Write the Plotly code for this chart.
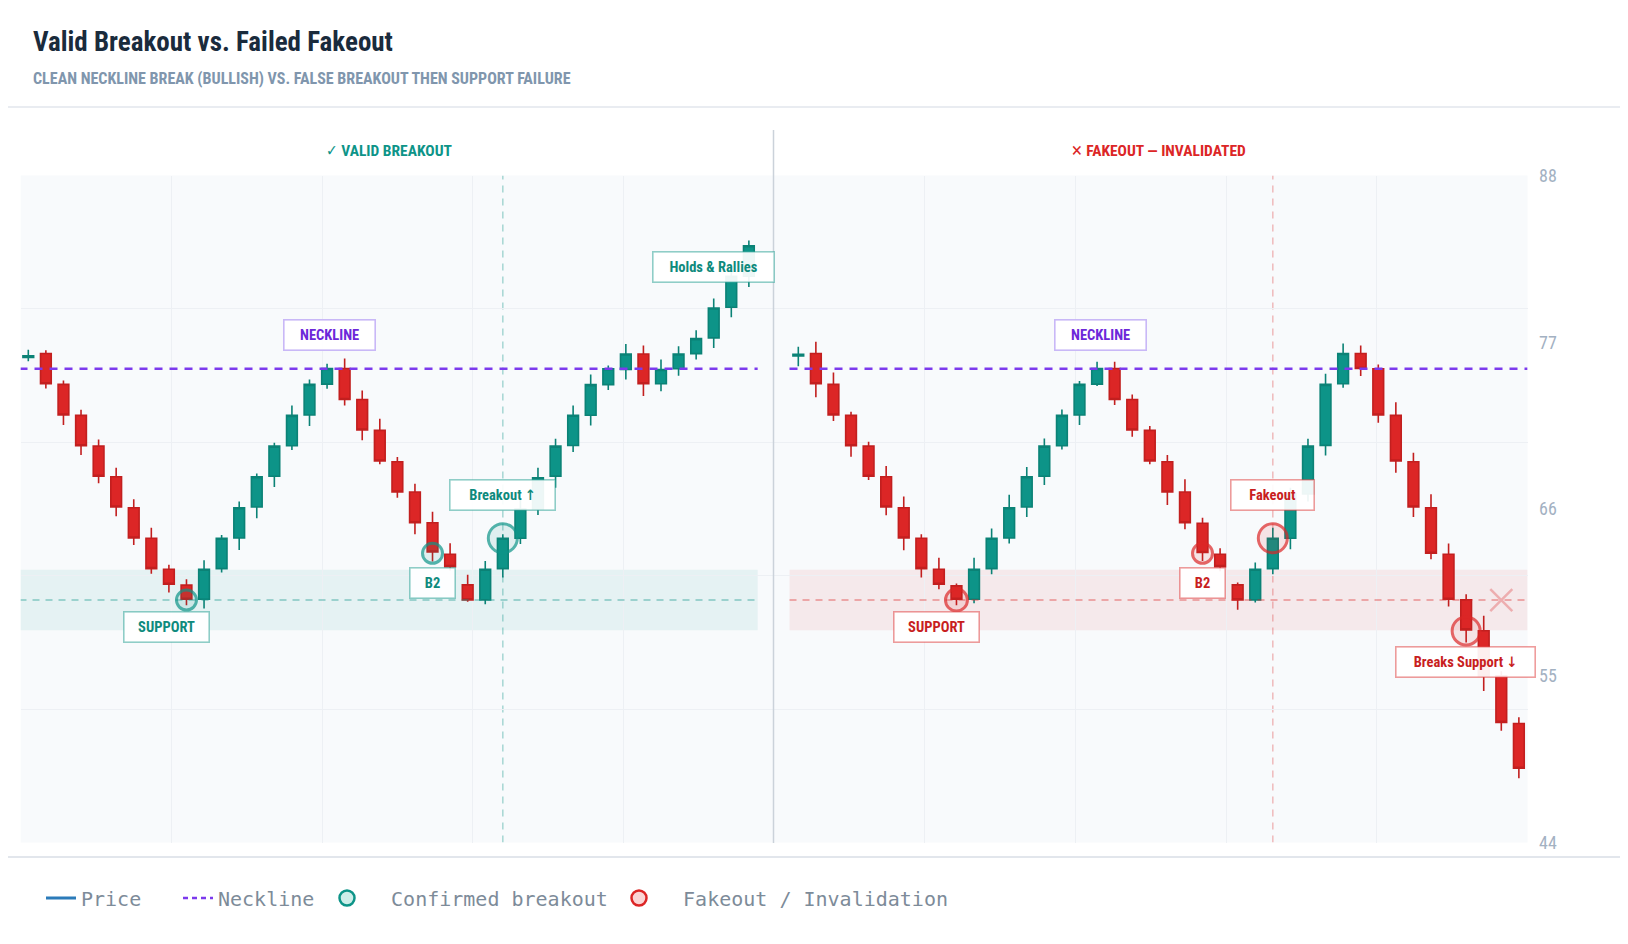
import plotly.graph_objects as go

# ---------------- data ----------------
candle_idx = list(range(42))

valid_open = [76.00, 76.26, 74.22, 72.18, 70.15, 68.13, 66.09, 64.07, 62.03, 60.98,
              60.05, 62.07, 64.09, 66.14, 68.16, 70.18, 72.20, 74.24, 75.27, 73.23,
              71.19, 69.12, 67.12, 65.10, 63.02, 61.00, 60.01, 62.07, 64.07, 66.00,
              68.17, 70.19, 72.19, 74.21, 75.20, 76.23, 74.26, 75.25, 76.25, 77.29,
              79.31, 81.35]
valid_high = [76.50, 76.48, 74.48, 72.55, 70.59, 68.73, 66.64, 64.77, 62.32, 61.37,
              62.62, 64.29, 66.49, 68.35, 70.37, 72.83, 74.55, 75.58, 75.93, 73.82,
              71.96, 69.43, 67.67, 65.83, 63.74, 61.66, 62.58, 64.34, 66.60, 68.72,
              70.63, 72.83, 74.87, 75.47, 76.89, 76.78, 75.86, 76.74, 77.79, 79.88,
              81.79, 83.72]
valid_low = [75.75, 73.95, 71.54, 69.56, 67.70, 65.52, 63.63, 61.74, 60.49, 59.66,
             59.44, 61.81, 63.30, 65.39, 67.45, 69.89, 71.47, 73.93, 72.83, 70.53,
             68.95, 66.75, 64.34, 62.54, 61.95, 59.88, 59.72, 61.48, 63.70, 65.60,
             67.40, 69.77, 71.51, 73.86, 74.54, 73.45, 73.77, 74.80, 75.86, 76.63,
             78.65, 80.65]
valid_close = [76.10, 74.26, 72.20, 70.18, 68.16, 66.14, 64.09, 62.07, 61.04, 60.05,
               62.03, 64.07, 66.09, 68.13, 70.15, 72.18, 74.22, 75.27, 73.23, 71.21,
               69.17, 67.12, 65.10, 63.17, 62.20, 60.01, 62.03, 64.07, 66.00, 68.06,
               70.15, 72.19, 74.21, 75.25, 76.23, 74.26, 75.20, 76.23, 77.24, 79.26,
               81.35, 83.37]

fake_open = [76.10, 76.26, 74.22, 72.18, 70.15, 68.13, 66.09, 64.07, 62.03, 60.93,
             60.05, 62.07, 64.09, 66.14, 68.16, 70.18, 72.20, 74.24, 75.27, 73.23,
             71.19, 69.12, 67.12, 65.06, 63.02, 61.00, 60.01, 62.07, 64.07, 67.00,
             70.20, 74.26, 76.26, 75.25, 72.18, 69.12, 66.09, 63.02, 60.01, 57.97,
             55.00, 51.86]
fake_high = [76.70, 77.03, 75.00, 72.42, 70.44, 68.84, 66.82, 64.34, 62.78, 61.09,
             62.78, 64.71, 66.95, 68.77, 70.66, 72.57, 74.44, 75.71, 75.71, 73.56,
             71.47, 69.56, 67.96, 65.43, 63.41, 61.15, 62.47, 64.77, 67.40, 70.64,
             74.92, 76.92, 76.79, 75.53, 73.05, 69.72, 66.97, 63.72, 60.38, 58.96,
             55.30, 52.26]
fake_low = [75.42, 73.38, 71.80, 69.45, 67.91, 65.59, 63.28, 61.48, 60.71, 59.66,
            59.79, 61.70, 63.72, 65.48, 67.59, 69.93, 71.54, 74.11, 72.86, 70.77,
            68.95, 66.27, 64.67, 62.58, 61.90, 59.35, 59.83, 61.70, 63.35, 66.50,
            69.54, 74.00, 74.77, 71.69, 68.40, 65.48, 62.69, 59.57, 57.20, 54.00,
            51.38, 48.24]
fake_close = [76.20, 74.26, 72.20, 70.18, 68.16, 66.14, 64.09, 62.07, 61.04, 60.05,
              62.03, 64.07, 66.09, 68.13, 70.15, 72.18, 74.22, 75.27, 73.23, 71.21,
              69.17, 67.12, 65.10, 63.13, 62.20, 60.01, 62.03, 64.07, 67.00, 70.15,
              74.22, 76.26, 75.27, 72.20, 69.17, 66.14, 63.08, 60.05, 58.03, 55.00,
              51.93, 48.90]

NECKLINE = 75.25
SUPPORT = 60.0
SUPPORT_LO, SUPPORT_HI = 58.0, 62.0
SPAN_START, SPAN_END = -0.5, 41.5

valid_mark_idx = [9, 23, 27]
valid_mark_val = [60.0, 63.08, 64.07]
valid_mark_size = [20, 20, 29]
fake_mark_idx = [9, 23, 27, 38]
fake_mark_val = [60.0, 63.08, 64.07, 57.96]
fake_mark_size = [22, 20, 29, 28]
BREAKOUT_IDX = 27
FAKEOUT_IDX = 27
FAIL_X_IDX = 40

Y_MIN, Y_MAX = 44, 88
Y_TICKS = [44, 55, 66, 77, 88]

valid_labels = [("NECKLINE", 17.15, 77.47, 86), ("SUPPORT", 7.89, 58.2, 80),
                ("B2", 23.0, 61.14, 40), ("Breakout ↑", 26.98, 66.91, 100),
                ("Holds &amp; Rallies", 39.0, 81.99, 116)]
fake_labels = [("NECKLINE", 17.17, 77.47, 86), ("SUPPORT", 7.89, 58.2, 80),
               ("B2", 23.0, 61.14, 40), ("Fakeout", 27.0, 66.91, 78),
               ("Breaks Support ↓", 37.99, 55.93, 134)]

legend_names = ["Price", "Neckline", "Confirmed breakout", "Fakeout / Invalidation"]

# ---------------- style ----------------
W, H = 1612, 928
OFF = 8
TEAL = "#0d9488"
TEAL_LINE = "#0b8276"
RED = "#dc2626"
RED_LINE = "#c21f1f"
PURPLE = "#7c3aed"
COND = "'Roboto Condensed', 'Liberation Sans Narrow', 'DejaVu Sans Condensed', 'Arial Narrow', sans-serif"
MONO = "'DejaVu Sans Mono', 'Liberation Mono', monospace"
NBSP = "\u00a0"


def px(xf):
    return (xf - OFF) / W


def py(yf):
    return 1 - (yf - OFF) / H


def rng(left_px, right_px, first_candle_px, step=17.575):
    a = (left_px - first_candle_px) / step
    b = (right_px - first_candle_px) / step
    return a, b


xa1, xb1 = rng(20.7, 774, 28.3)
xa2, xb2 = rng(774, 1527.5, 798.3)
ydom = [py(842.6), py(175.5)]
grid_y = [Y_MIN + k * (Y_MAX - Y_MIN) / 5 for k in range(1, 5)]

fig = go.Figure()

for (o, h, l, c, xr, yr) in [(valid_open, valid_high, valid_low, valid_close, "x", "y"),
                             (fake_open, fake_high, fake_low, fake_close, "x2", "y2")]:
    fig.add_trace(go.Candlestick(
        x=candle_idx, open=o, high=h, low=l, close=c, xaxis=xr, yaxis=yr,
        increasing=dict(line=dict(color=TEAL_LINE, width=1.6), fillcolor=TEAL),
        decreasing=dict(line=dict(color=RED_LINE, width=1.6), fillcolor=RED),
        showlegend=False, hoverinfo="skip"))

# neckline + support dashed lines
for xr, yr, col in [("x", "y", TEAL), ("x2", "y2", RED)]:
    fig.add_trace(go.Scatter(x=[SPAN_START, SPAN_END], y=[SUPPORT, SUPPORT], xaxis=xr, yaxis=yr,
                             mode="lines", line=dict(color=col, width=1.5, dash="7px,6px"),
                             opacity=0.45, showlegend=False, hoverinfo="skip"))
    fig.add_trace(go.Scatter(x=[SPAN_START, SPAN_END], y=[NECKLINE, NECKLINE], xaxis=xr, yaxis=yr,
                             mode="lines", line=dict(color=PURPLE, width=2.5, dash="8px,7px"),
                             showlegend=False, hoverinfo="skip"))

# marker circles
fig.add_trace(go.Scatter(x=valid_mark_idx, y=valid_mark_val, xaxis="x", yaxis="y", mode="markers",
                         marker=dict(size=valid_mark_size, color="rgba(13,148,136,0.15)",
                                     line=dict(color=TEAL, width=3)),
                         showlegend=False, hoverinfo="skip"))
fig.add_trace(go.Scatter(x=fake_mark_idx, y=fake_mark_val, xaxis="x2", yaxis="y2", mode="markers",
                         marker=dict(size=fake_mark_size, color="rgba(220,38,38,0.15)",
                                     line=dict(color=RED, width=3)),
                         showlegend=False, hoverinfo="skip"))
fig.add_trace(go.Scatter(x=[FAIL_X_IDX], y=[SUPPORT], xaxis="x2", yaxis="y2", mode="markers",
                         marker=dict(symbol="x-thin", size=22,
                                     line=dict(color="rgba(220,38,38,0.3)", width=2.5)),
                         showlegend=False, hoverinfo="skip"))
# invisible helper for the right-hand label axis
fig.add_trace(go.Scatter(x=[None], y=[None], xaxis="x2", yaxis="y3", mode="markers",
                         showlegend=False, hoverinfo="skip"))

# legend-only entries (one legend box each, so they can be spaced like the original)
fig.add_trace(go.Scatter(x=[None], y=[None], mode="lines", name=legend_names[0], legend="legend",
                         line=dict(color="#2b7bb9", width=3)))
fig.add_trace(go.Scatter(x=[None], y=[None], mode="lines", name=legend_names[1], legend="legend2",
                         line=dict(color=PURPLE, width=2.5, dash="5px,4px")))
fig.add_trace(go.Scatter(x=[None], y=[None], mode="markers", name=NBSP * 2 + legend_names[2],
                         legend="legend3",
                         marker=dict(size=15, color="#cdeee9", line=dict(color=TEAL, width=2.5))))
fig.add_trace(go.Scatter(x=[None], y=[None], mode="markers", name=NBSP * 2 + legend_names[3],
                         legend="legend4",
                         marker=dict(size=15, color="#fbd5d5", line=dict(color=RED, width=2.5))))

shapes = []
# support bands
shapes.append(dict(type="rect", xref="x", yref="y", x0=SPAN_START, x1=SPAN_END, y0=SUPPORT_LO,
                   y1=SUPPORT_HI, fillcolor="rgba(13,148,136,0.08)", line_width=0, layer="below"))
shapes.append(dict(type="rect", xref="x2", yref="y2", x0=SPAN_START, x1=SPAN_END, y0=SUPPORT_LO,
                   y1=SUPPORT_HI, fillcolor="rgba(220,38,38,0.08)", line_width=0, layer="below"))
# vertical event lines
shapes.append(dict(type="line", xref="x", yref="y", x0=BREAKOUT_IDX, x1=BREAKOUT_IDX, y0=Y_MIN,
                   y1=Y_MAX, line=dict(color="rgba(13,148,136,0.35)", width=1.5, dash="7px,6px"),
                   layer="below"))
shapes.append(dict(type="line", xref="x2", yref="y2", x0=FAKEOUT_IDX, x1=FAKEOUT_IDX, y0=Y_MIN,
                   y1=Y_MAX, line=dict(color="rgba(220,38,38,0.3)", width=1.5, dash="7px,6px"),
                   layer="below"))
# panel divider and separators
shapes.append(dict(type="line", xref="paper", yref="paper", x0=px(773.5), x1=px(773.5),
                   y0=py(130), y1=py(843), line=dict(color="#cbd2da", width=1.5)))
shapes.append(dict(type="line", xref="paper", yref="paper", x0=-0.01, x1=1.01, y0=py(107),
                   y1=py(107), line=dict(color="#e2e6ec", width=1.5)))
shapes.append(dict(type="line", xref="paper", yref="paper", x0=-0.01, x1=1.01, y0=py(857),
                   y1=py(857), line=dict(color="#e2e6ec", width=2)))

annotations = [
    dict(text="<b>Valid Breakout vs. Failed Fakeout</b>", xref="paper", yref="paper",
         x=px(31), y=py(42), xanchor="left", yanchor="middle", showarrow=False,
         font=dict(family=COND, size=27, color="#1a2b3c")),
    dict(text="<b>CLEAN NECKLINE BREAK (BULLISH) VS. FALSE BREAKOUT THEN SUPPORT FAILURE</b>",
         xref="paper", yref="paper", x=px(31), y=py(79), xanchor="left", yanchor="middle",
         showarrow=False, font=dict(family=COND, size=16, color="#8096ad")),
    dict(text="<b>✓ VALID BREAKOUT</b>", xref="paper", yref="paper", x=px(389), y=py(151),
         xanchor="center", yanchor="middle", showarrow=False,
         font=dict(family=COND, size=15.5, color=TEAL)),
    dict(text="<b>✕ FAKEOUT — INVALIDATED</b>", xref="paper", yref="paper", x=px(1158), y=py(151),
         xanchor="center", yanchor="middle", showarrow=False,
         font=dict(family=COND, size=15.5, color=RED)),
]

for labels, xr, yr, tcol, bcol in [(valid_labels, "x", "y", "#0e8a7d", "rgba(13,148,136,0.45)"),
                                   (fake_labels, "x2", "y2", "#c81e1e", "rgba(220,38,38,0.45)")]:
    for text, lx, ly, w in labels:
        is_neck = text == "NECKLINE"
        annotations.append(dict(
            text="<b>" + text + "</b>", xref=xr, yref=yr, x=lx, y=ly, showarrow=False,
            xanchor="center", yanchor="middle", width=w, height=25, align="center",
            bgcolor="rgba(255,255,255,0.93)", borderpad=2, borderwidth=1.6,
            bordercolor="#c9b8f7" if is_neck else bcol,
            font=dict(family=COND, size=14.5, color="#6d28d9" if is_neck else tcol)))

axis_common = dict(showline=False, zeroline=False, ticks="", showticklabels=False,
                   gridcolor="#edf0f4", gridwidth=1)


def legend_box(x_full):
    return dict(orientation="h", x=px(x_full), y=py(898), xanchor="left", yanchor="middle",
                font=dict(family=MONO, size=20, color="#7d8b99"), bgcolor="rgba(0,0,0,0)",
                itemwidth=30)


fig.update_layout(
    width=W, height=H, autosize=False,
    margin=dict(l=0, r=0, t=0, b=0, autoexpand=False),
    paper_bgcolor="white", plot_bgcolor="#f8fafc",
    boxgap=0.39, boxgroupgap=0,
    xaxis=dict(domain=[px(20.7), px(774)], range=[xa1, xb1], anchor="y",
               tickvals=[xa1 + k * (xb1 - xa1) / 5 for k in range(1, 5)],
               rangeslider=dict(visible=False), **axis_common),
    xaxis2=dict(domain=[px(774), px(1527.5)], range=[xa2, xb2], anchor="y2",
                tickvals=[xa2 + k * (xb2 - xa2) / 5 for k in range(1, 5)],
                rangeslider=dict(visible=False), **axis_common),
    yaxis=dict(domain=ydom, range=[Y_MIN, Y_MAX], anchor="x", tickvals=grid_y, **axis_common),
    yaxis2=dict(domain=ydom, range=[Y_MIN, Y_MAX], anchor="x2", tickvals=grid_y, **axis_common),
    yaxis3=dict(overlaying="y2", anchor="x2", side="right", range=[Y_MIN, Y_MAX],
                tickvals=Y_TICKS, showgrid=False, zeroline=False, showline=False,
                ticks="outside", ticklen=7, tickcolor="rgba(0,0,0,0)",
                tickfont=dict(family=COND, size=18, color="#a3b1c2")),
    shapes=shapes,
    annotations=annotations,
    showlegend=True,
    legend=legend_box(41),
    legend2=legend_box(178),
    legend3=legend_box(327),
    legend4=legend_box(619),
    hovermode=False,
)

fig.write_html("out.html")
